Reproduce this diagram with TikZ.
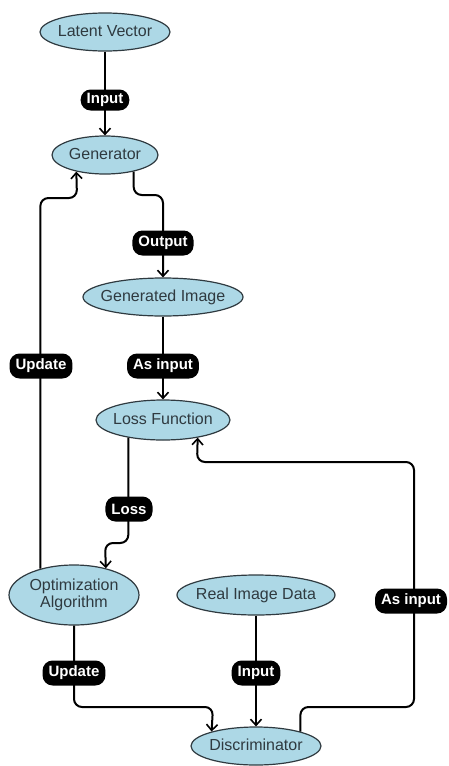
\documentclass[tikz,border=0pt]{standalone}
\usepackage{fontspec}
\setmainfont{Liberation Sans}
\usetikzlibrary{shapes.geometric,arrows.meta}
\definecolor{nodefill}{HTML}{ADD8E6}
\definecolor{nodetext}{HTML}{2F3A40}
\newcommand{\zw}[1]{\makebox[0pt]{#1}}
\newcommand{\zwtwo}[1]{\makebox[0pt]{\begin{tabular}{@{}c@{}}#1\end{tabular}}}
\begin{document}
\begin{tikzpicture}[x=1pt,y=-1pt,
  ell/.style={ellipse,draw=nodetext,line width=1.2pt,fill=nodefill,text=nodetext,inner sep=0pt,font=\fontsize{16}{18}\selectfont},
  one/.style={text height=11.5pt,text depth=3pt},
  lbl/.style={fill=black,text=white,rounded corners=10pt,inner xsep=6pt,inner ysep=0pt,minimum height=25pt,font=\bfseries\fontsize{15}{17}\selectfont},
  arr/.style={line width=2pt,rounded corners=8pt,-{Straight Barb[length=6pt,width=11pt,line width=1.6pt]}},
]
\useasboundingbox (0,0) rectangle (448,766);
% nodes
\node[ell,one,minimum width=130pt,minimum height=38pt] (lat) at (105,32) {\zw{Latent Vector}};
\node[ell,one,minimum width=106pt,minimum height=38pt] (gen) at (105,155) {\zw{Generator}};
\node[ell,one,minimum width=160pt,minimum height=38pt] (gimg) at (163,297) {\zw{Generated Image}};
\node[ell,one,minimum width=134pt,minimum height=40pt] (loss) at (163,420) {\zw{Loss Function}};
\node[ell,minimum width=130pt,minimum height=60pt] (opt) at (74,595) {\zwtwo{Optimization\\[-1pt]Algorithm}};
\node[ell,one,minimum width=158pt,minimum height=40pt] (real) at (256,595) {\zw{Real Image Data}};
\node[ell,one,minimum width=130pt,minimum height=38pt] (disc) at (256,746) {\zw{Discriminator}};
% waypoints
\coordinate (w1) at (163,195);
\coordinate (w2) at (77,198);
\coordinate (w3) at (105,543);
\coordinate (w4) at (213,707);
\coordinate (w5) at (414,707);
\coordinate (w6) at (414,462);
\coordinate (w7) at (197,462);
% edges
\draw[arr] (lat) -- (gen);
\draw[arr] (gen.-30) |- (w1) -- (gimg.north);
\draw[arr] (opt.142) |- (w2) -- (gen.210);
\draw[arr] (gimg) -- (loss);
\draw[arr] (loss.207) |- (w3) -- (opt.40);
\draw[arr] (opt.south) |- (w4) -- (disc.162);
\draw[arr] (real) -- (disc);
\draw[arr] (disc.18) |- (w5) -- (w6) -- (w7) -- (loss.-27);
% labels
\node[lbl,minimum height=21pt] (l1) at (105,100) {Input};
\node[lbl] (l2) at (163,243) {Output};
\node[lbl] (l3) at (41,366) {Update};
\node[lbl] (l4) at (163,366) {As input};
\node[lbl] (l5) at (129,509) {Loss};
\node[lbl] (l6) at (74,673) {Update};
\node[lbl] (l7) at (256,673) {Input};
\node[lbl] (l8) at (411,601) {As input};
\end{tikzpicture}
\end{document}
